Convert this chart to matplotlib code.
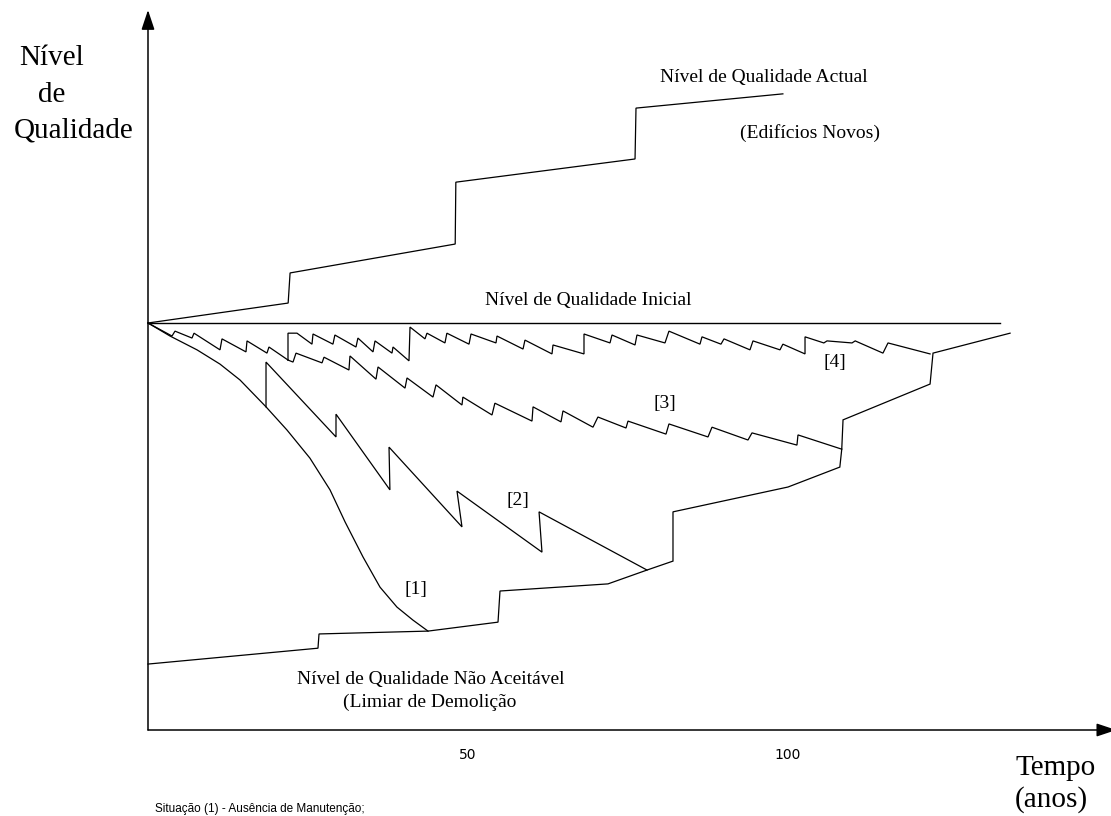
import matplotlib
matplotlib.use('Agg')
import matplotlib.pyplot as plt

# x = time in years, y = quality level (initial level = 100)
actual = [(0, 100), (21.9, 104.9), (22.2, 112.3), (48.0, 119.4), (48.1, 134.6),
          (76.1, 140.3), (76.25, 152.8), (99.2, 156.3)]

threshold = [(0, 16.2), (26.56, 20.1), (26.72, 23.6), (43.75, 24.3), (54.69, 26.5),
             (55.0, 34.15), (71.875, 35.9), (77.97, 39.3), (82.03, 41.5), (82.03, 53.6),
             (100.0, 59.7), (108.1, 64.6), (108.4, 69.0), (108.6, 76.2), (122.2, 85.0),
             (122.66, 92.6), (134.7, 97.5)]

# [1] no maintenance
sit1 = [(0, 100), (3.44, 96.8), (7.66, 93.4), (11.25, 89.9), (14.375, 86.0),
        (18.44, 79.4), (21.72, 73.7), (25.3, 66.8), (28.44, 59.0), (30.8, 51.1),
        (33.6, 42.5), (36.25, 35.1), (38.9, 30.2), (41.4, 27.0), (43.75, 24.3)]

# [2] branches off [1]
sit2 = [(18.44, 79.4), (18.44, 90.4), (29.375, 72.0), (29.375, 77.6), (37.8, 59.0),
        (37.66, 69.5), (49.06, 49.9), (48.28, 58.7), (61.56, 43.7), (61.1, 53.6),
        (77.97, 39.3)]

# common start of [3] and [4]
common34 = [(0, 100), (3.75, 96.8), (4.22, 98.0), (6.875, 96.3), (7.19, 97.5),
            (11.25, 93.4), (11.56, 96.1), (15.31, 92.9), (15.47, 95.6), (18.59, 92.6),
            (18.9, 94.1), (21.875, 90.9)]

sit3 = [(21.875, 90.9), (22.66, 90.4), (23.125, 92.6), (27.19, 90.2), (27.5, 91.6),
        (31.4, 88.45), (31.56, 91.9), (35.625, 86.2), (35.94, 89.2), (40.16, 84.0),
        (40.47, 86.5), (44.53, 81.8), (45.0, 84.8), (49.06, 79.85), (49.2, 81.8),
        (53.75, 77.4), (54.2, 80.3), (60.0, 75.9), (60.16, 79.4), (64.53, 75.7),
        (64.84, 78.4), (69.53, 74.4), (70.3, 76.9), (74.69, 74.2), (75.0, 75.9),
        (80.94, 72.7), (81.4, 75.2), (87.5, 72.0), (88.125, 74.4), (93.75, 71.25),
        (94.375, 73.0), (101.4, 70.0), (101.56, 72.5), (108.4, 69.0)]

sit4 = [(21.875, 90.9), (21.875, 97.5), (23.28, 97.5), (25.625, 94.8), (25.78, 97.3),
        (28.9, 94.8), (29.2, 97.05), (32.5, 94.1), (32.8, 96.3), (35.16, 92.9),
        (35.47, 95.6), (38.125, 92.6), (38.28, 94.1), (40.78, 90.7), (40.94, 99.0),
        (43.28, 96.1), (43.59, 97.5), (46.4, 95.1), (46.7, 97.5), (50.16, 94.8),
        (50.47, 97.3), (54.375, 95.1), (54.53, 96.8), (58.6, 93.6), (58.9, 95.8),
        (63.125, 92.4), (63.28, 94.6), (68.125, 92.4), (68.125, 97.3), (72.19, 95.1),
        (72.5, 97.05), (76.1, 94.6), (76.4, 97.05), (80.78, 95.1), (81.4, 98.0),
        (86.25, 94.8), (86.56, 96.6), (89.53, 94.8), (90.0, 96.1), (94.06, 93.4),
        (94.53, 95.6), (98.75, 93.4), (99.2, 94.8), (102.66, 92.4), (102.66, 96.6),
        (105.6, 95.1), (106.1, 95.6), (110.0, 95.1), (110.5, 95.6), (114.84, 92.6),
        (115.625, 95.1), (122.2, 92.4)]

initial_level = 100
initial_end = 133.1
xticks = [50, 100]

fig = plt.figure(figsize=(11.11, 8.16), dpi=100)
ax = fig.add_axes([0, 0, 1, 1])
ax.set_xlim(-23.125, 150.47)
ax.set_ylim(-21.13, 179.36)
ax.axis('off')

serif = 'Liberation Serif'

def draw(pts, lw=0.9):
    xs, ys = zip(*pts)
    ax.plot(xs, ys, color='black', lw=lw, solid_joinstyle='miter')

for series in [actual, threshold, sit1, sit2, common34, sit3, sit4]:
    draw(series)
ax.plot([0, initial_end], [initial_level, initial_level], color='black', lw=1.0)

# axes with arrows
arrow = dict(arrowstyle='-|>,head_length=0.6,head_width=0.2', color='black',
             lw=1.1, mutation_scale=20, shrinkA=0, shrinkB=0)
ax.annotate('', xy=(0, 176.9), xytext=(0, 0), arrowprops=arrow)
ax.annotate('', xy=(151.3, 0), xytext=(0, 0), arrowprops=arrow, annotation_clip=False)

for t in xticks:
    ax.text(t, -6.1, str(t), ha='center', va='center', fontsize=10, family='DejaVu Sans')

# axis titles
ax.text(-15.0, 165.1, 'Nível', ha='center', va='center', fontsize=21, family=serif)
ax.text(-15.0, 156.0, 'de', ha='center', va='center', fontsize=21, family=serif)
ax.text(-11.56, 147.4, 'Qualidade', ha='center', va='center', fontsize=21, family=serif)
ax.text(135.5, -9.3, 'Tempo', ha='left', va='center', fontsize=21, family=serif)
ax.text(135.5, -17.2, '(anos)', ha='left', va='center', fontsize=21, family=serif)

# annotations
ax.text(96.25, 160.4, 'Nível de Qualidade Actual', ha='center', va='center', fontsize=14, family=serif)
ax.text(103.4, 146.7, '(Edifícios Novos)', ha='center', va='center', fontsize=14, family=serif)
ax.text(68.75, 105.65, 'Nível de Qualidade Inicial', ha='center', va='center', fontsize=14, family=serif)
ax.text(44.2, 12.5, 'Nível de Qualidade Não Aceitável', ha='center', va='center', fontsize=14, family=serif)
ax.text(44.06, 6.9, '(Limiar de Demolição', ha='center', va='center', fontsize=14, family=serif)
ax.text(107.3, 90.2, '[4]', ha='center', va='center', fontsize=14, family=serif)
ax.text(80.8, 80.3, '[3]', ha='center', va='center', fontsize=14, family=serif)
ax.text(57.8, 56.5, '[2]', ha='center', va='center', fontsize=14, family=serif)
ax.text(41.9, 34.6, '[1]', ha='center', va='center', fontsize=14, family=serif)

ax.text(1.1, -20.2, 'Situação (1) - Ausência de Manutenção;', ha='left', va='baseline',
        fontsize=8.5, family='Liberation Sans')

fig.savefig('out.png', dpi=100)
